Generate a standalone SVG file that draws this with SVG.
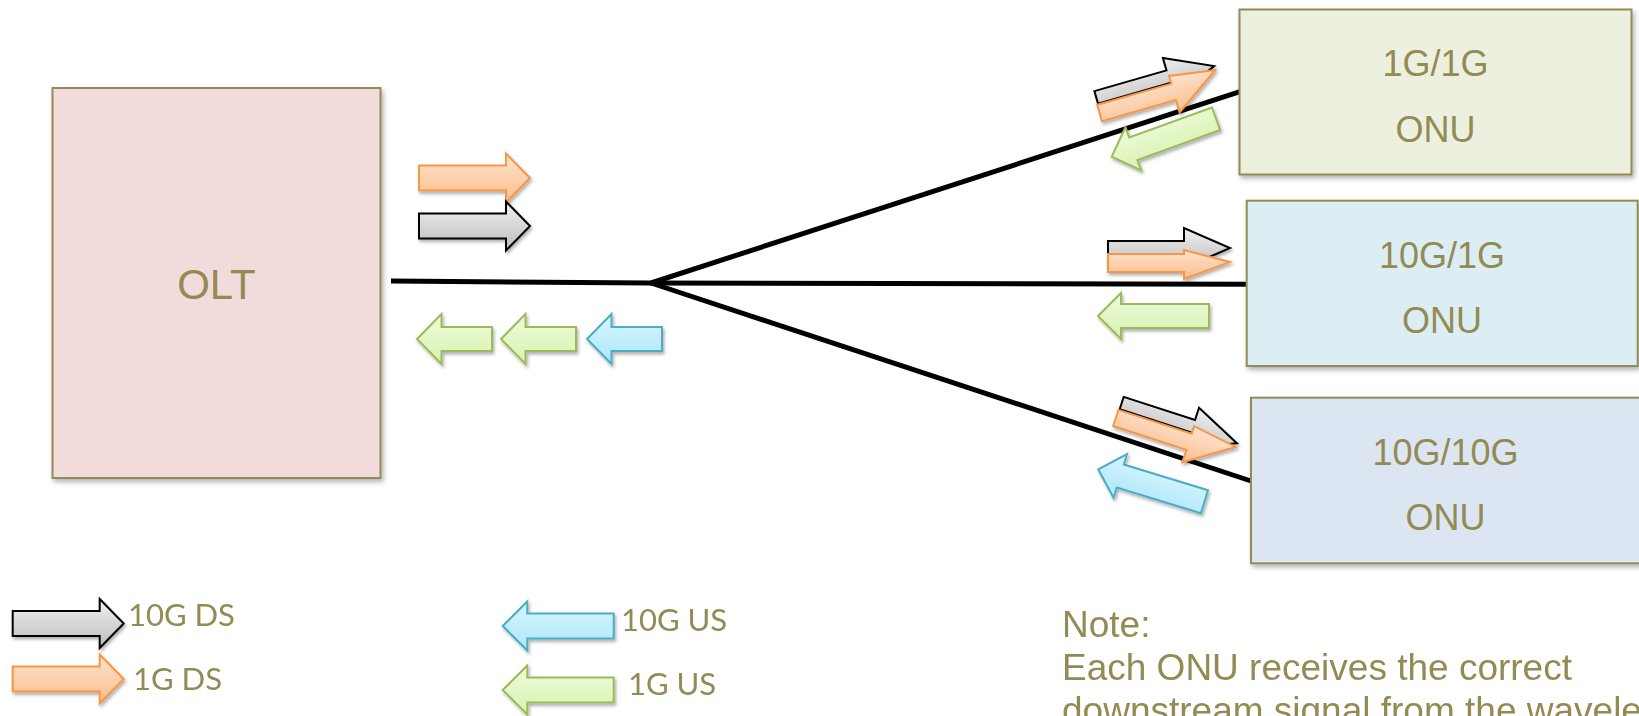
<svg xmlns="http://www.w3.org/2000/svg" width="1639" height="716" viewBox="0 0 1639 716">
<style>
.box{stroke:#948a54;stroke-width:2;filter:url(#sh)}
.t{font-family:"Liberation Sans",Arial,sans-serif;fill:#948a54;text-anchor:middle}
.lg{font-family:Lato,"Open Sans",sans-serif;font-size:31px;fill:#948a54}
.note{font-family:"Liberation Sans",Arial,sans-serif;font-size:37px;fill:#948a54}
.ln{stroke:#000;stroke-width:5;fill:none;stroke-linecap:butt}
.gr{fill:url(#gGray);stroke:#000;stroke-width:2;stroke-linejoin:miter}
.or{fill:url(#gOr);stroke:#f79646;stroke-width:2;stroke-linejoin:miter}
.gn{fill:url(#gGn);stroke:#9bbb59;stroke-width:2;stroke-linejoin:miter}
.bl{fill:url(#gBl);stroke:#4bacc6;stroke-width:2;stroke-linejoin:miter}
.ar{filter:url(#sh2)}
</style>
<defs>
<filter id="sh" x="-10%" y="-10%" width="120%" height="130%">
<feDropShadow dx="2" dy="3" stdDeviation="2.5" flood-color="#000" flood-opacity="0.3"/>
</filter>
<filter id="sh2" x="-20%" y="-30%" width="140%" height="160%">
<feDropShadow dx="1.5" dy="2.5" stdDeviation="1.8" flood-color="#000" flood-opacity="0.3"/>
</filter>
<linearGradient id="gGray" x1="0" y1="0" x2="0" y2="1"><stop offset="0" stop-color="#f0f0f0"/><stop offset="1" stop-color="#bdbdbd"/></linearGradient>
<linearGradient id="gOr" x1="0" y1="0" x2="0" y2="1"><stop offset="0" stop-color="#fde3cf"/><stop offset="1" stop-color="#fbbd8c"/></linearGradient>
<linearGradient id="gGn" x1="0" y1="0" x2="0" y2="1"><stop offset="0" stop-color="#eefbdc"/><stop offset="1" stop-color="#d8f2b0"/></linearGradient>
<linearGradient id="gBl" x1="0" y1="0" x2="0" y2="1"><stop offset="0" stop-color="#d8f6ff"/><stop offset="1" stop-color="#ace6fa"/></linearGradient>
<path id="dsR" d="M0,-12.5 H87 V-24.5 L111,0 L87,24.5 V12.5 H0 Z"/>
<path id="usL" d="M0,0 L24.5,-25 V-12 H75 V12 H24.5 V25 Z"/>
<path id="lgL" d="M0,0 L24.6,-24.5 V-12.5 H111 V12.5 H24.6 V24.5 Z"/>
<path id="usS" d="M0,0 L23,-23 V-12 H111 V12 H23 V23 Z"/>
<path id="pGray" d="M-122,-12 H-47 V-25 L0,-3 L-47,17 V1 H-122 Z"/>
<path id="pOr" d="M-123,2 H-46 V-6 L0,1 L-46,32 V19 H-123 Z"/>
</defs>
<rect width="1639" height="716" fill="#fff"/>

<g id="connectors">
<path class="ln" d="M391,281 L651,283"/>
<path class="ln" d="M651,283 L1240,91.7"/>
<path class="ln" d="M651,283 L1247,284.3"/>
<path class="ln" d="M651,283 L1251,481"/>
</g>

<g id="olt">
<rect class="box" x="52.5" y="88" width="328" height="390" fill="#f2dcdb"/>
<text class="t" x="216.5" y="299" font-size="42">OLT</text>
</g>

<g id="onu1">
<rect class="box" x="1239.5" y="9.5" width="392" height="165" fill="#ebf1de"/>
<text class="t" x="1435.5" y="76" font-size="36">1G/1G</text>
<text class="t" x="1435.5" y="141.7" font-size="36">ONU</text>
</g>

<g id="onu2">
<rect class="box" x="1246.7" y="200.7" width="391" height="165.3" fill="#dbeef4"/>
<text class="t" x="1442" y="267.5" font-size="36">10G/1G</text>
<text class="t" x="1442" y="333" font-size="36">ONU</text>
</g>

<g id="onu3">
<rect class="box" x="1251" y="397.7" width="395" height="165.6" fill="#dce6f2"/>
<text class="t" x="1445.5" y="464.5" font-size="36">10G/10G</text>
<text class="t" x="1445.5" y="530" font-size="36">ONU</text>
</g>

<g id="olt-arrows" class="ar">
<use href="#dsR" class="or" transform="translate(419,178)"/>
<use href="#dsR" class="gr" transform="translate(419,226)"/>
<use href="#usL" class="gn" transform="translate(417,339)"/>
<use href="#usL" class="gn" transform="translate(501,339)"/>
<use href="#usL" class="bl" transform="translate(587,339)"/>
</g>

<g id="onu1-arrows" class="ar">
<use href="#pGray" class="gr" transform="translate(1215,69) rotate(-16)"/>
<use href="#pOr" class="or" transform="translate(1215,69) rotate(-16)"/>
<use href="#usS" class="gn" transform="translate(1111.7,156.7) rotate(-20)"/>
</g>

<g id="onu2-arrows" class="ar">
<path class="gr" d="M1108,241 H1184 V228 L1230,248 L1184,268 V254 H1108 Z"/>
<path class="or" d="M1108,254 H1184 V250 L1230,262 L1184,279 V272 H1108 Z"/>
<use href="#usS" class="gn" transform="translate(1098,316)"/>
</g>

<g id="onu3-arrows" class="ar">
<use href="#pGray" class="gr" transform="translate(1236,446) rotate(18)"/>
<use href="#pOr" class="or" transform="translate(1236,446) rotate(18)"/>
<use href="#usS" class="bl" transform="translate(1098.3,469.3) rotate(17)"/>
</g>

<g id="legend">
<g class="ar">
<use href="#dsR" class="gr" transform="translate(12.7,623.5)"/>
<use href="#dsR" class="or" transform="translate(12.7,679)"/>
<use href="#lgL" class="bl" transform="translate(502.7,626)"/>
<use href="#lgL" class="gn" transform="translate(502.7,690)"/>
</g>
<text class="lg" x="128" y="626">10G DS</text>
<text class="lg" x="133" y="690">1G DS</text>
<text class="lg" x="621" y="631">10G US</text>
<text class="lg" x="628" y="695">1G US</text>
</g>

<g id="note">
<text class="note" x="1062" y="636.6">Note:</text>
<text class="note" x="1062" y="679.5">Each ONU receives the correct</text>
<text class="note" x="1062" y="722.5">downstream signal from the wavele</text>
</g>
</svg>
